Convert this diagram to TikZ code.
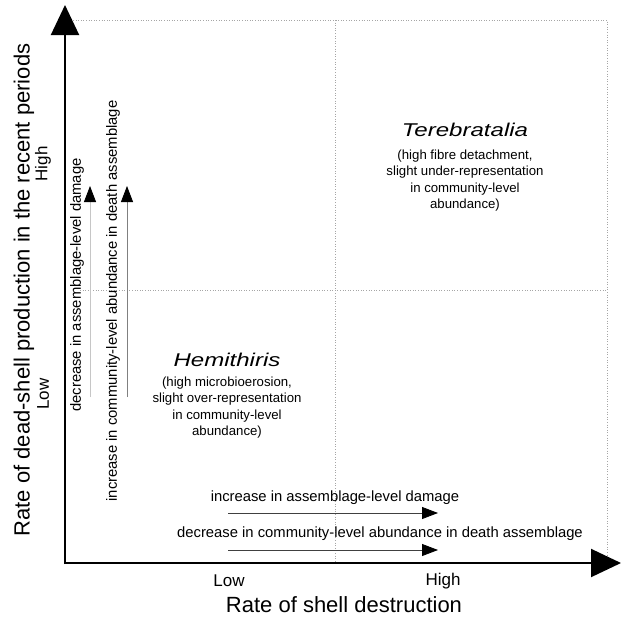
\documentclass[tikz,border=0pt]{standalone}
\usepackage{fontspec}
\setmainfont{Liberation Sans}
\newfontfamily\taxonfont[FakeStretch=1.3]{Liberation Sans}
\usetikzlibrary{arrows.meta}

\begin{document}
\begin{tikzpicture}[x=1pt,y=-1pt,
  axis/.style={line width=2pt, -{Triangle[length=30pt,width=28pt]}},
  gridline/.style={gray!70, dotted, line width=0.6pt},
  trend/.style={line width=0.8pt, -{Triangle[length=16pt,width=12pt,color=black]}},
  axislabel/.style={font=\fontsize{22}{26}\selectfont, inner sep=0pt},
  ticklabel/.style={font=\fontsize{17}{20}\selectfont, inner sep=0pt},
  trendlabel/.style={font=\fontsize{14.8}{18}\selectfont, inner sep=0pt},
  taxon/.style={font={\taxonfont\itshape\fontsize{18.5}{22}\selectfont}, inner sep=0pt},
  note/.style={font=\fontsize{13.2}{16.6}\selectfont, align=center, inner sep=0pt},
]
\useasboundingbox (0,0) rectangle (621,621);

% reference points of the frame
\coordinate (origin) at (65,563);
\coordinate (xtip) at (621,563);
\coordinate (ytip) at (65,5);
\coordinate (tl) at (73,20);
\coordinate (tr) at (607,20);
\coordinate (br) at (607,563);
\coordinate (mt) at (335,20);
\coordinate (mb) at (335,563);
\coordinate (ml) at (80,290);
\coordinate (mr) at (607,290);

% dotted quadrant grid
\draw[gridline] (tl) -- (tr) -- (br);
\draw[gridline] (mt) -- (mb);
\draw[gridline] (ml) -- (mr);

% axes
\draw[axis] (64,563) -- (xtip);
\draw[axis] (65,564) -- (ytip);

% axis titles and tick labels
\node[axislabel, rotate=90] (ytitle) at (24,290) {Rate of dead-shell production in the recent periods};
\node[ticklabel, rotate=90] (yhigh) at (43,164) {High};
\node[ticklabel, rotate=90] (ylow) at (43,394) {Low};
\node[axislabel] (xtitle) at (344,605) {Rate of shell destruction};
\node[ticklabel] (xlow) at (229,581) {Low};
\node[ticklabel] (xhigh) at (443,581) {High};

% vertical trends
\coordinate (v1s) at (90,397);
\coordinate (v1e) at (90,186);
\coordinate (v2s) at (127,397);
\coordinate (v2e) at (127,186);
\draw[trend, draw=gray!45] (v1s) -- (v1e);
\draw[trend, draw=gray] (v2s) -- (v2e);
\node[trendlabel, rotate=90] (vl1) at (77,285) {decrease in assemblage-level damage};
\node[trendlabel, rotate=90] (vl2) at (113,301) {increase in community-level abundance in death assemblage};

% horizontal trends
\coordinate (h1s) at (228,513);
\coordinate (h1e) at (438,513);
\coordinate (h2s) at (228,550);
\coordinate (h2e) at (438,550);
\node[trendlabel] (hl1) at (335,498) {increase in assemblage-level damage};
\draw[trend, draw=black!75] (h1s) -- (h1e);
\node[trendlabel] (hl2) at (380,534) {decrease in community-level abundance in death assemblage};
\draw[trend, draw=black!75] (h2s) -- (h2e);

% taxa
\node[taxon] (tere) at (465,130) {Terebratalia};
\node[note] (terenote) at (465,180.5) {(high fibre detachment,\\slight under-representation\\in community-level\\abundance)};
\node[taxon] (hemi) at (227,360) {Hemithiris};
\node[note] (heminote) at (227,407.5) {(high microbioerosion,\\slight over-representation\\in community-level\\abundance)};
\end{tikzpicture}
\end{document}
